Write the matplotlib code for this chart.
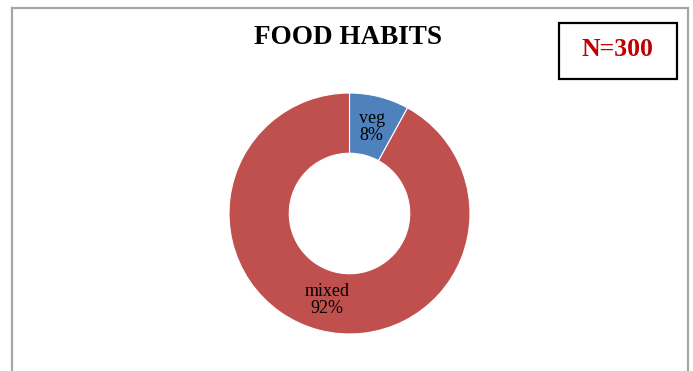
import matplotlib
matplotlib.use("Agg")
import matplotlib.pyplot as plt
from matplotlib.lines import Line2D
from matplotlib.patches import Rectangle

categories = ["veg", "mixed"]
shares = [8, 92]
colors = ["#4F81BD", "#C0504D"]
title = "FOOD HABITS"
sample_note = "N=300"

W, H = 693, 371
fig = plt.figure(figsize=(W / 100, H / 100), dpi=100)
fig.patch.set_facecolor("white")

def fx(px):
    return px / W

def fy(py):
    return 1 - py / H

# chart-area border (open at the bottom)
border = dict(color="#A6A6A6", lw=1.6, transform=fig.transFigure)
fig.add_artist(Line2D([fx(12.5), fx(12.5)], [fy(7.5), fy(380)], **border))
fig.add_artist(Line2D([fx(12.5), fx(687.5)], [fy(7.5), fy(7.5)], **border))
fig.add_artist(Line2D([fx(687.5), fx(687.5)], [fy(7.5), fy(380)], **border))

# donut
cx, cy, r = 349.5, 213.5, 120.5
ax = fig.add_axes([fx(cx - r), fy(cy + r), 2 * r / W, 2 * r / H])
labels_iter = iter(categories)

def fmt(pct):
    return f"{next(labels_iter)}\n{pct:.0f}%"

wedges, _, autotexts = ax.pie(
    shares, colors=colors, startangle=90, counterclock=False,
    radius=1, wedgeprops=dict(width=0.5, edgecolor="white", linewidth=0.8),
    autopct=fmt, pctdistance=0.74,
    textprops=dict(family="Liberation Serif", fontsize=13, color="black",
                   linespacing=0.95),
)
ax.set_xlim(-1, 1)
ax.set_ylim(-1, 1)
ax.set_aspect("equal")
ax.axis("off")

fig.text(fx(348), fy(37), title, ha="center", va="center",
         family="Liberation Serif", fontweight="bold", fontsize=19.5,
         color="black")

# sample size box
fig.add_artist(Rectangle((fx(558.5), fy(79)), fx(676.5) - fx(558.5),
                         fy(23) - fy(79), transform=fig.transFigure,
                         fill=False, edgecolor="black", lw=1.6))
fig.text(fx(617), fy(50), sample_note, ha="center", va="center",
         family="Liberation Serif", fontweight="bold", fontsize=18.5,
         color="#C00000")

fig.savefig("out.png", dpi=100, facecolor="white")
